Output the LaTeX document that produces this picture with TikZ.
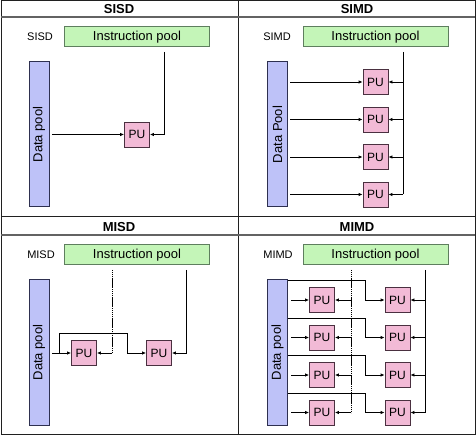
\documentclass[tikz,border=0pt]{standalone}
\usepackage{fontspec}
\setmainfont{Liberation Sans}
\usetikzlibrary{arrows.meta,positioning,calc}
\definecolor{PoolGreen}{HTML}{C4F5B8}
\definecolor{PoolGreenLine}{HTML}{5E7E5E}
\definecolor{DataBlue}{HTML}{BEC2F8}
\definecolor{DataBlueLine}{HTML}{2E3050}
\definecolor{PUPink}{HTML}{F2BAD6}
\definecolor{PULine}{HTML}{4A3040}
\definecolor{Frame}{HTML}{202020}
\tikzset{
 ipool/.style={draw=PoolGreenLine, fill=PoolGreen, line width=1pt, minimum width=145pt, minimum height=20pt, inner sep=0pt, font=\fontsize{13}{15}\selectfont},
 dpool/.style={draw=DataBlueLine, fill=DataBlue, line width=1pt, minimum width=145pt, minimum height=20pt, inner sep=0pt, rotate=90, font=\fontsize{13}{15}\selectfont},
 pu/.style={draw=PULine, fill=PUPink, line width=0.8pt, minimum size=25pt, inner sep=0pt, font=\fontsize{12}{14}\selectfont},
 tag/.style={font=\fontsize{11}{13}\selectfont},
 title/.style={font=\bfseries\fontsize{13}{15}\selectfont},
 flow/.style={-{Latex[length=4pt,width=3.5pt]}, line width=0.8pt},
 wire/.style={line width=0.8pt},
 dotwire/.style={line width=0.9pt, dash pattern=on 1.4pt off 0.5pt}
}

\begin{document}
\begin{tikzpicture}[x=1pt,y=-1pt]
\useasboundingbox (0,0) rectangle (476,435);
% frame and panel dividers
\draw[Frame, line width=1pt] (1,1) rectangle (475,434);
\draw[Frame, line width=1pt] (238,1) -- (238,434);
\draw[Frame, line width=1pt] (1,217) -- (475,217);
\draw[Frame!70, line width=1.3pt] (1,17) -- (475,17);
\draw[Frame!70, line width=1.3pt] (1,235) -- (475,235);

% SISD
\begin{scope}
\node[title] (sisd-title) at (119,9) {SISD};
\node[tag] (sisd-tag) at (40,37) {SISD};
\node[ipool] (sisd-ip) at (137,37) {Instruction pool};
\node[dpool] (sisd-dp) at (39,134.5) {Data pool};
\node[pu] (sisd-pu) at (137,134.5) {PU};
\coordinate (sisd-d) at (52,134.5);
\coordinate (sisd-i) at (164,52);
\draw[flow] (sisd-d) -- (sisd-pu);
\draw[flow] (sisd-i) |- (sisd-pu);
\end{scope}

% SIMD
\begin{scope}[shift={(238,0)}]
\node[title] (simd-title) at (119,9) {SIMD};
\node[tag] (simd-tag) at (39,37) {SIMD};
\node[ipool] (simd-ip) at (137.5,37) {Instruction pool};
\node[dpool] (simd-dp) at (39.5,134.5) {Data Pool};
\foreach \i/\y in {1/82,2/119.5,3/157,4/194.5}{
  \node[pu] (simd-pu\i) at (137.5,\y) {PU};
  \coordinate (simd-d\i) at (52,\y);
  \coordinate (simd-b\i) at (165,\y);
  \draw[flow] (simd-d\i) -- (simd-pu\i);
  \draw[flow] (simd-b\i) -- (simd-pu\i);
}
\coordinate (simd-top) at (165,52);
\draw[wire] (simd-top) -- (simd-b4);
\end{scope}

% MISD
\begin{scope}[shift={(0,218)}]
\node[title] (misd-title) at (119,9) {MISD};
\node[tag] (misd-tag) at (41,37) {MISD};
\node[ipool] (misd-ip) at (137,37) {Instruction pool};
\node[dpool] (misd-dp) at (39,134.5) {Data pool};
\node[pu] (misd-pu1) at (84,135) {PU};
\node[pu] (misd-pu2) at (159,135) {PU};
\coordinate (misd-i1) at (112,52);
\coordinate (misd-c1) at (112,135);
\coordinate (misd-i2) at (186,52);
\draw[dotwire] (misd-i1) -- (misd-c1);
\draw[flow] (misd-c1) -- (misd-pu1);
\draw[flow] (misd-i2) |- (misd-pu2);
\coordinate (misd-d) at (52,135);
\coordinate (misd-j) at (59,135);
\coordinate (misd-k) at (127,115);
\draw[flow] (misd-d) -- (misd-pu1);
\draw[flow] (misd-j) |- (misd-k) |- (misd-pu2);
\end{scope}

% MIMD
\begin{scope}[shift={(238,218)}]
\node[title] (mimd-title) at (119,9) {MIMD};
\node[tag] (mimd-tag) at (40,37) {MIMD};
\node[ipool] (mimd-ip) at (137.5,37) {Instruction pool};
\node[dpool] (mimd-dp) at (39.5,134.5) {Data pool};
\foreach \i/\y in {1/82,2/119.5,3/157,4/194.5}{
  \node[pu] (mimd-a\i) at (84,\y) {PU};
  \node[pu] (mimd-b\i) at (159.5,\y) {PU};
  \coordinate (mimd-d\i) at (53,\y);
  \coordinate (mimd-l\i) at (113,\y);
  \coordinate (mimd-r\i) at (187,\y);
  \coordinate (mimd-s\i) at (50,\y-19.5);
  \coordinate (mimd-k\i) at (127,\y-19.5);
  \draw[flow] (mimd-d\i) -- (mimd-a\i);
  \draw[flow] (mimd-s\i) -- (mimd-k\i) |- (mimd-b\i);
  \draw[flow] (mimd-l\i) -- (mimd-a\i);
  \draw[flow] (mimd-r\i) -- (mimd-b\i);
}
\coordinate (mimd-top1) at (113,52);
\coordinate (mimd-top2) at (187,52);
\draw[dotwire] (mimd-top1) -- (mimd-l4);
\draw[wire] (mimd-top2) -- (mimd-r4);
\end{scope}
\end{tikzpicture}
\end{document}
